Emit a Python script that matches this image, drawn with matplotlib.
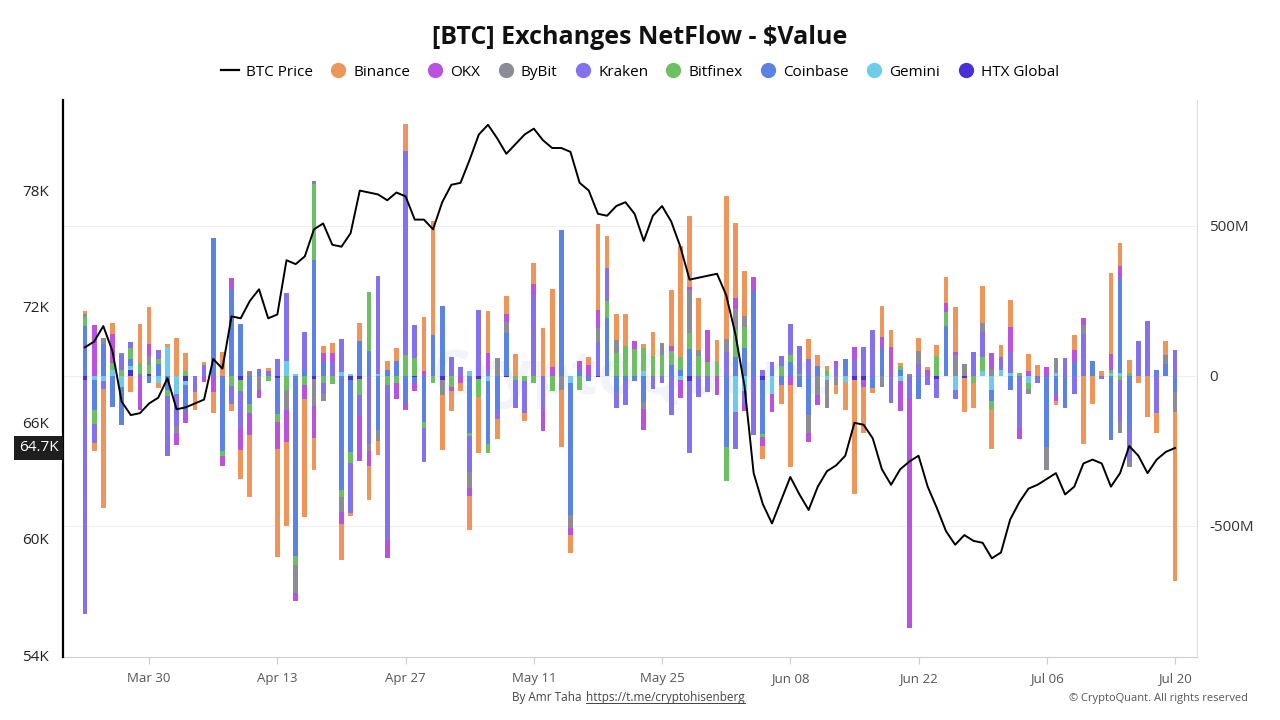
import numpy as np
import pandas as pd
import matplotlib
matplotlib.use("Agg")
import matplotlib.pyplot as plt
from matplotlib.lines import Line2D
import matplotlib.transforms as mtransforms

plt.rcParams['font.family'] = ['Open Sans', 'DejaVu Sans']

dates = pd.date_range('2025-03-23', periods=120, freq='D')

# daily netflow per exchange, in $M
binance = [10, -26, -395, 38, 0, -52, 130, 121, -18, 12,
           128, 62, -60, 12, -70, 80, -22, -95, -208, 0,
           12, -363, -280, 0, -393, -107, 24, 36, -120, -12,
           60, -113, -48, 30, 42, 90, 0, 180, 380, -185,
           -67, -26, -113, -187, 137, -68, 62, 74, -26, 69,
           160, 260, -190, -60, 0, 27, 285, 105, 87, 107,
           0, 14, 77, 0, 188, 371, 234, 172, 0, 74,
           478, 252, 151, 0, -42, 0, -65, -274, 0, 65,
           36, 14, -30, -93, -380, -155, -18, 102, 57, 10,
           0, 45, 12, 35, 89, 149, -113, -83, 125, -131,
           42, 89, 0, 54, 36, 0, -14, 0, 48, -226,
           -95, 18, 268, 75, 44, -24, -137, -65, 48, -565]
okx = [0, 170, 0, 95, 0, 0, -115, 42, 0, 0,
       -38, -38, 0, -20, -54, -32, 36, -72, -72, -26,
       0, -90, -107, -24, -48, -107, 27, 30, -42, 0,
       -150, -48, 0, -60, -54, -24, -27, 15, 0, 0,
       -14, -24, -24, 0, 54, 0, 27, 0, 0, 38,
       -77, 30, 0, -24, 30, 36, 60, 0, 0, 0,
       26, -70, 0, 0, 15, -60, 12, 0, 107, -65,
       0, 36, -18, 48, -30, -60, 0, -30, 0, -30,
       -32, 0, 18, 0, 40, -24, 0, 38, 95, -100,
       -762, 0, 19, 0, 30, 12, 0, 0, 0, 51,
       0, 83, -36, 18, 0, 30, -18, 0, 40, 24,
       0, 0, 54, 42, 0, 0, 0, 0, 0, 0]
bybit = [12, 0, 20, 0, 8, 0, 0, 30, 0, 0,
         -24, 0, 0, 0, 0, 0, 0, 0, 15, -48,
         0, 0, -65, -95, 0, -90, -26, 0, -48, 0,
         0, -24, -36, 0, 0, 0, 0, 0, 0, -48,
         0, 0, -54, 0, 0, 60, 36, 0, 0, 0,
         0, 0, -48, -42, 0, 0, 48, 0, 44, 0,
         0, -24, 0, 40, 0, 0, 143, 20, 0, 0,
         42, 71, 36, 0, 0, 0, 0, 0, 0, -60,
         -65, -92, -30, 0, 0, 0, 0, -36, 0, 0,
         8, 44, 0, 0, 0, 69, 40, 0, 30, 24,
         0, 0, 0, -18, 0, -77, 50, 0, 0, 30,
         0, 0, 0, -42, -18, 0, 0, 0, 30, -65]
kraken = [-780, -65, -27, 0, 50, 21, 0, 0, 27, -200,
          -107, 0, -55, 35, 0, 0, -60, -125, 0, 10,
          15, 55, 228, 0, 125, 12, -33, 45, 110, -167,
          -70, -227, 325, -518, 0, 680, 110, -113, 0, 0,
          62, 30, -121, 220, 24, -30, 0, -95, -107, 270,
          -107, 0, 0, 0, 0, 0, 113, 110, -54, -78,
          0, 0, -45, -24, -130, 0, -240, -69, -55, 0,
          80, -125, -48, -196, 20, 25, 33, 105, 92, 57,
          0, 0, 33, 0, 57, 95, 152, 0, -90, 0,
          -78, 39, -30, -65, 0, -30, 0, 81, 83, 0,
          42, 71, -173, 0, -24, 0, 0, 61, -60, 140,
          0, -10, 0, -137, -100, 115, 184, -125, 0, 86]
bitfinex = [28, -48, 0, 24, 20, 36, 36, 30, 18, -18,
            0, 15, 0, 0, 0, -18, -35, -36, -30, 0,
            -18, -24, -48, -30, -30, 252, -24, -26, -24, -36,
            -54, 196, 0, -30, -24, 69, 60, -18, -24, 0,
            -36, 0, -10, -60, -32, 0, 0, -12, -18, -22,
            0, -50, 0, 0, -48, 0, 0, 56, 77, 100,
            90, 77, 68, 70, 48, 42, 54, 67, 45, 45,
            -113, 89, 71, 0, -12, 0, 33, 24, 8, 0,
            0, 20, 0, 0, 0, 0, 0, 0, 0, 14,
            0, 0, 0, 67, 45, 0, 0, -24, 48, -30,
            0, 0, 10, -18, 0, 0, 0, 0, 0, 0,
            0, 0, 10, -12, 10, 0, 0, 0, 0, 0]
coinbase = [168, -100, 107, -105, -125, 24, 8, -24, 40, -48,
            0, -90, 0, 0, 460, -250, 290, 172, -95, 14,
            0, -120, 0, -600, 20, 387, 48, 0, -380, -238,
            117, 83, -180, 20, 50, -90, -18, -155, 137, 232,
            0, 0, -190, 0, -208, -113, 143, 0, 0, 0,
            0, 0, 488, -440, 20, -18, 0, 194, -54, -18,
            -18, -86, 0, 0, 36, 20, 89, 0, 0, 0,
            -238, 63, 93, 283, -180, 23, -30, 45, -36, -130,
            33, 0, 0, 55, 0, 0, -40, 93, 0, 20,
            0, -78, 0, 0, 167, 0, 0, 0, 0, -36,
            0, -48, 0, 0, 0, -238, -65, -107, 48, 0,
            49, 0, -212, 315, -185, 0, 0, 20, 39, -54]
gemini = [0, -12, -18, 20, -38, 14, 0, 0, -22, 95,
          -60, -12, 0, 0, 0, 0, 0, 0, 0, 0,
          0, 0, 50, 5, 0, 0, 0, 0, 12, 5,
          0, 0, 8, 0, 0, 0, 0, 0, 0, 0,
          0, 0, 15, 0, -18, 0, 0, 0, 0, 0,
          0, 0, 0, -24, 0, 0, 0, 0, 0, 0,
          0, 15, 0, 0, 0, -15, 0, 0, 0, 0,
          0, -120, -50, 0, 0, -60, 0, 0, 0, 0,
          0, -15, 0, -20, 0, 0, 0, 0, 0, -18,
          0, 0, 0, 0, 0, -48, 0, 0, 15, -48,
          20, 10, 0, -24, 0, 0, 10, 0, 0, 0,
          0, 0, 10, 10, 0, 0, 0, 0, 0, 0]
htx = [-12, 0, 0, 0, 0, 19, 0, 6, 0, 0,
       0, -18, 0, 0, 0, 0, 0, -15, 0, 0,
       0, -8, 0, 0, 0, -10, 0, 0, 0, -15,
       -10, 0, 0, 0, 0, 0, -5, 0, 0, -14,
       0, 0, 0, -10, 0, 0, -5, 0, 0, 0,
       0, 0, 0, 0, 0, 0, -5, 0, 0, 0,
       0, 0, 0, 0, 0, 0, -18, 0, 0, 0,
       0, 0, 0, 0, -12, 0, 0, 0, 0, 0,
       0, 0, 0, 0, -12, -12, 0, 0, 0, 0,
       0, 0, 0, -10, 0, 0, -8, 0, 0, 0,
       0, 0, 0, 0, 0, 0, 0, 0, 0, 0,
       0, 0, 0, 0, 0, 0, 0, 0, 0, 0]

# BTC price, $K
btc_price = [69.9, 70.2, 71.0, 69.7, 67.1, 66.4, 66.5, 67.0, 67.3, 68.3,
             66.7, 66.8, 67.0, 67.2, 69.3, 68.8, 71.5, 71.4, 72.3, 72.9,
             71.4, 71.6, 74.4, 74.2, 74.6, 76.0, 76.3, 75.2, 75.1, 75.8,
             78.0, 77.9, 77.8, 77.5, 77.9, 77.7, 76.5, 76.5, 76.0, 77.4,
             78.3, 78.4, 79.6, 80.9, 81.4, 80.7, 79.9, 80.4, 80.9, 81.2,
             80.6, 80.2, 80.2, 80.0, 78.4, 78.0, 76.8, 76.7, 77.2, 77.4,
             76.8, 75.4, 76.7, 77.2, 76.4, 75.1, 73.4, 73.5, 73.6, 73.7,
             72.6, 70.6, 67.9, 63.4, 61.8, 60.8, 62.0, 63.2, 62.3, 61.5,
             62.7, 63.5, 63.8, 64.3, 66.0, 65.9, 65.2, 63.6, 62.8, 63.6,
             64.0, 64.3, 62.7, 61.6, 60.4, 59.7, 60.2, 59.9, 59.8, 59.0,
             59.3, 61.0, 61.9, 62.6, 62.8, 63.1, 63.4, 62.3, 62.7, 63.9,
             64.1, 63.9, 62.7, 63.4, 64.8, 64.3, 63.4, 64.1, 64.5, 64.7]

names = ['Binance', 'OKX', 'ByBit', 'Kraken', 'Bitfinex', 'Coinbase', 'Gemini', 'HTX Global']
colors = ['#f0955a', '#b952de', '#8c8c96', '#8471ee', '#6cc062', '#5b82e5', '#6ecce8', '#4b2fd6']
series = [binance, okx, bybit, kraken, bitfinex, coinbase, gemini, htx]

x = np.arange(len(dates))

fig = plt.figure(figsize=(12.8, 7.2), dpi=100)
ax = fig.add_axes([63 / 1280, 1 - 657 / 720, (1197 - 63) / 1280, (657 - 100) / 720])

# stack from zero outwards: last series sits next to zero
pos_base = np.zeros(len(x))
neg_base = np.zeros(len(x))
for vals, col in zip(series[::-1], colors[::-1]):
    v = np.array(vals, dtype=float)
    pos = np.where(v > 0, v, 0)
    neg = np.where(v < 0, v, 0)
    ax.bar(x, pos, bottom=pos_base, width=0.52, color=col, linewidth=0, zorder=2)
    ax.bar(x, neg, bottom=neg_base, width=0.52, color=col, linewidth=0, zorder=2)
    pos_base += pos
    neg_base += neg

ax.text(0.5, 0.5, 'CryptoQuant', transform=ax.transAxes, fontsize=44, color='#dde2ee',
        alpha=0.35, ha='center', va='center', zorder=1, fontweight='bold')

# price on left axis
ax2 = ax.twinx()
ax2.plot(x, btc_price, color='black', linewidth=1.4, zorder=5)

ax.set_ylim(-937, 920)
ax.set_yticks([-500, 0, 500])
ax.set_yticklabels(['-500M', '0', '500M'])
ax.yaxis.tick_right()
ax.tick_params(axis='y', length=0, pad=9, labelsize=11, labelcolor='#333333')
ax.grid(axis='y', color='#efefef', linewidth=0.8, zorder=0)
ax.set_axisbelow(True)

ax.set_xlim(-2.4, 121.4)
tick_idx = list(range(7, 120, 14))
ax.set_xticks(tick_idx)
ax.set_xticklabels([dates[i].strftime('%b %d') for i in tick_idx])
ax.tick_params(axis='x', length=5, color='#cccccc', labelcolor='#555555', labelsize=9.5, pad=6)

for s in ['top', 'left']:
    ax.spines[s].set_visible(False)
ax.spines['right'].set_color('#dddddd')
ax.spines['bottom'].set_color('#cccccc')

ax2.set_ylim(53.9, 82.68)
ax2.set_yticks([54, 60, 66, 72, 78])
ax2.set_yticklabels(['54K', '60K', '66K', '72K', '78K'])
ax2.yaxis.tick_left()
ax2.tick_params(axis='y', length=0, pad=10, labelsize=11, labelcolor='#222222')
ax2.spines['left'].set_visible(True)
ax2.spines['left'].set_color('black')
ax2.spines['left'].set_linewidth(1.6)
for s in ['top', 'right', 'bottom']:
    ax2.spines[s].set_visible(False)

trans = mtransforms.blended_transform_factory(ax2.transAxes, ax2.transData)
ax2.text(-0.004, btc_price[-1], '%.1fK' % btc_price[-1], transform=trans, ha='right', va='center',
         color='white', fontsize=11, zorder=10,
         bbox=dict(boxstyle='square,pad=0.3', facecolor='#1e1e1e', edgecolor='none'))

fig.text(0.5, 1 - 37 / 720, r'[BTC] Exchanges NetFlow - \$Value', ha='center', va='center',
         fontsize=18, fontweight='bold', color='#111111')

handles = [Line2D([0], [0], color='black', linewidth=1.6)]
for col in colors:
    handles.append(Line2D([0], [0], marker='o', linestyle='none', markersize=11,
                          markerfacecolor=col, markeredgecolor='none'))
fig.legend(handles, ['BTC Price'] + names, loc='center', bbox_to_anchor=(0.5, 1 - 72 / 720),
           ncol=9, frameon=False, fontsize=11, handlelength=1.2, handletextpad=0.4,
           columnspacing=1.05)

t1 = fig.text(582 / 1280, 1 - 697 / 720, 'By Amr Taha', ha='right', va='center', fontsize=8.5, color='#444444')
t2 = fig.text(586 / 1280, 1 - 697 / 720, 'https://t.me/cryptohisenberg', ha='left', va='center',
              fontsize=8.5, color='#444444')
fig.text(1248 / 1280, 1 - 698 / 720, '\u00a9 CryptoQuant. All rights reserved', ha='right', va='center',
         fontsize=8, color='#555555')

fig.canvas.draw()
bb = t2.get_window_extent()
inv = fig.transFigure.inverted()
(x0, y0), (x1, _) = inv.transform([(bb.x0, bb.y0 + 1), (bb.x1, bb.y0 + 1)])
fig.add_artist(Line2D([x0, x1], [y0, y0], color='#444444', linewidth=0.7, transform=fig.transFigure))

fig.savefig('out.png', dpi=100, facecolor='white')
